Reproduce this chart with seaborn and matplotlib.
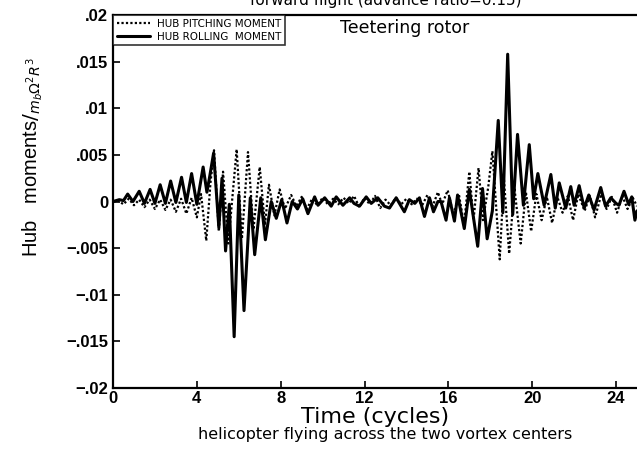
import matplotlib
matplotlib.use("Agg")
import matplotlib.pyplot as plt
import seaborn as sns
import pandas as pd

# ---- data ----
t_roll = [0, 0.3, 0.5, 0.7, 0.95, 1.25, 1.5, 1.77, 2.0, 2.25,
          2.5, 2.75, 3.0, 3.27, 3.5, 3.75, 4.0, 4.3, 4.48, 4.6,
          4.8, 5.05, 5.2, 5.37, 5.55, 5.78, 6.0, 6.25, 6.55, 6.76,
          7.05, 7.27, 7.55, 7.79, 8.05, 8.3, 8.55, 8.8, 9.05, 9.3,
          9.62, 9.78, 10.1, 10.41, 10.65, 10.97, 11.29, 11.5, 11.76, 12.08,
          12.32, 12.63, 12.95, 13.19, 13.51, 13.9, 14.14, 14.4, 14.62, 14.86,
          15.1, 15.29, 15.5, 15.65, 15.89, 16.05, 16.29, 16.44, 16.76, 17.0,
          17.4, 17.63, 17.85, 18.1, 18.38, 18.6, 18.83, 19.07, 19.3, 19.58,
          19.86, 20.07, 20.27, 20.57, 20.89, 21.1, 21.29, 21.6, 21.84, 22.0,
          22.24, 22.48, 22.7, 22.95, 23.27, 23.5, 23.75, 24.0, 24.14, 24.38,
          24.6, 24.75, 24.9, 25.0]
v_roll = [0, 0.0002, 0.0001, 0.0008, 0.0, 0.0011, -0.0002, 0.0013, -0.0002, 0.0018,
          -0.0002, 0.0022, -0.0001, 0.0026, -0.0001, 0.003, -0.0003, 0.0037, 0.001, 0.0025,
          0.0052, -0.0028, 0.0025, -0.0053, -0.0003, -0.0145, 0.0007, -0.0117, 0.0004, -0.0057,
          0.0004, -0.0041, 0.0, -0.0018, 0.0002, -0.0023, 0.0, -0.0008, 0.0003, -0.0013,
          0.0005, -0.0004, 0.0004, -0.0005, 0.0005, -0.0004, 0.0004, -0.0002, -0.0005, 0.0005,
          -0.0002, 0.0004, -0.0005, -0.0007, 0.0004, -0.0011, 0.0002, -0.0002, 0.0004, -0.0016,
          0.0004, -0.0011, 0.0, 0.0, -0.002, 0.0004, -0.0021, 0.0007, -0.0029, 0.0013,
          -0.0048, 0.0014, -0.004, -0.001, 0.0087, -0.0012, 0.0158, -0.0014, 0.0072, -0.0004,
          0.0061, 0.0003, 0.003, -0.0004, 0.0029, -0.0007, 0.002, -0.0007, 0.0016, -0.0004,
          0.0017, -0.0007, 0.0007, -0.0009, 0.0015, -0.0005, 0.0004, -0.0002, -0.0004, 0.0011,
          -0.0003, 0.0005, -0.002, -0.001]

t_pitch = [0, 0.25, 0.5, 0.75, 1.0, 1.25, 1.5, 1.75, 2.0, 2.25,
           2.5, 2.75, 3.0, 3.25, 3.5, 3.75, 4.0, 4.2, 4.45, 4.65,
           4.82, 5.05, 5.25, 5.5, 5.9, 6.15, 6.44, 6.7, 7.0, 7.25,
           7.44, 7.7, 7.95, 8.2, 8.5, 8.75, 9.0, 9.25, 9.5, 9.75,
           10.0, 10.25, 10.5, 10.75, 11.0, 11.25, 11.5, 11.75, 12.0, 12.25,
           12.5, 12.75, 13.0, 13.25, 13.5, 13.75, 14.0, 14.25, 14.5, 14.75,
           15.0, 15.25, 15.5, 15.7, 15.97, 16.25, 16.5, 16.75, 17.0, 17.2,
           17.44, 17.65, 17.9, 18.1, 18.45, 18.65, 18.9, 19.15, 19.45, 19.7,
           19.95, 20.2, 20.45, 20.7, 20.95, 21.2, 21.45, 21.7, 21.95, 22.2,
           22.5, 22.75, 23.0, 23.3, 23.55, 23.8, 24.05, 24.3, 24.55, 24.8,
           25.0]
v_pitch = [0, 0.0001, -0.0003, 0.0003, -0.0004, 0.0002, -0.0006, 0.0002, -0.0008, 0.0002,
           -0.0009, 0.0002, -0.0011, 0.0003, -0.0013, 0.0004, -0.0017, 0.0008, -0.0042, 0.002,
           0.0055, -0.0032, 0.0032, -0.0045, 0.0056, -0.004, 0.0053, -0.003, 0.0037, -0.0025,
           0.0018, -0.0015, 0.0013, -0.0008, 0.0007, -0.0005, 0.0005, -0.0008, 0.0003, -0.0004,
           0.0004, -0.0003, 0.0003, -0.0003, 0.0004, -0.0002, 0.0006, -0.0006, 0.0004, -0.0003,
           0.0006, -0.0007, 0.0002, -0.0004, 0.0004, -0.0003, 0.0003, -0.0003, 0.0003, -0.0004,
           0.0007, -0.0005, 0.001, -0.0003, 0.0012, -0.0015, 0.0008, -0.0025, 0.0032, -0.002,
           0.0036, -0.002, 0.0015, 0.0054, -0.0062, 0.0025, -0.0056, 0.0015, -0.0045, 0.001,
           -0.0032, 0.0008, -0.002, 0.0005, -0.0023, 0.0005, -0.0012, 0.0006, -0.002, 0.0008,
           -0.001, 0.0006, -0.0017, 0.0008, -0.0008, 0.0005, -0.0012, 0.0006, -0.0008, 0.0004,
           -0.0005]

x_ticks = [0, 4, 8, 12, 16, 20, 24]
y_ticks = [-0.02, -0.015, -0.01, -0.005, 0, 0.005, 0.01, 0.015, 0.02]
y_tick_labels = ["\u2212.02", "\u2212.015", "\u2212.01", "\u2212.005", "0",
                 ".005", ".01", ".015", ".02"]
label_pitch = "HUB PITCHING MOMENT"
label_roll = "HUB ROLLING  MOMENT"

# ---- plotting ----
sns.set_theme(style="ticks")
plt.rcParams["font.family"] = ["DejaVu Sans"]
plt.rcParams["text.color"] = "black"
plt.rcParams["axes.labelcolor"] = "black"
plt.rcParams["xtick.color"] = "black"
plt.rcParams["ytick.color"] = "black"

df_p = pd.DataFrame({"t": t_pitch, "v": v_pitch})
df_r = pd.DataFrame({"t": t_roll, "v": v_roll})

fig = plt.figure(figsize=(6.37, 4.65), dpi=100)
ax = fig.add_axes([0.1774, 0.1656, 0.8226, 0.802])

sns.lineplot(data=df_p, x="t", y="v", ax=ax, color="black", lw=1.6,
             linestyle=(0, (1, 1)), estimator=None, sort=False, label=label_pitch)
sns.lineplot(data=df_r, x="t", y="v", ax=ax, color="black", lw=2.2,
             estimator=None, sort=False, label=label_roll)

ax.set_xlim(0, 25)
ax.set_ylim(-0.02, 0.02)
ax.set_xticks(x_ticks)
ax.set_xticklabels([str(v) for v in x_ticks], fontsize=12, fontweight="bold",
                   family="Liberation Sans")
ax.set_yticks(y_ticks)
ax.set_yticklabels(y_tick_labels, fontsize=12, fontweight="bold",
                   family="Liberation Sans")
ax.tick_params(axis="x", pad=2)
ax.tick_params(direction="in", length=5, width=1.2, colors="black")
for s in ax.spines.values():
    s.set_color("black")
    s.set_linewidth(1.6)
ax.spines["right"].set_visible(False)

ax.set_xlabel("Time (cycles)", fontsize=16)
ax.xaxis.set_label_coords(0.5, -0.05)
ax.set_ylabel(r"Hub   moments$/_{m_b\Omega^2 R^3}$", fontsize=14.5,
              family="Liberation Sans")
ax.yaxis.set_label_coords(-0.13, 0.62)

leg = ax.legend(loc="upper left", bbox_to_anchor=(0, 1), borderaxespad=0,
                fontsize=7.5, frameon=True, fancybox=False, edgecolor="black",
                handlelength=3.2, handletextpad=0.7, labelspacing=0.3,
                borderpad=0.35)
leg.get_frame().set_linewidth(1.2)

ax.text(0.434, 0.965, "Teetering rotor", transform=ax.transAxes, fontsize=12.5,
        ha="left", va="center")
fig.text(0.606, 0.999, "forward flight (advance ratio=0.15)", ha="center",
         va="center", fontsize=11)
fig.text(0.605, 0.066, "helicopter flying across the two vortex centers",
         ha="center", va="center", fontsize=11.5)

fig.savefig("out.png", dpi=100)
